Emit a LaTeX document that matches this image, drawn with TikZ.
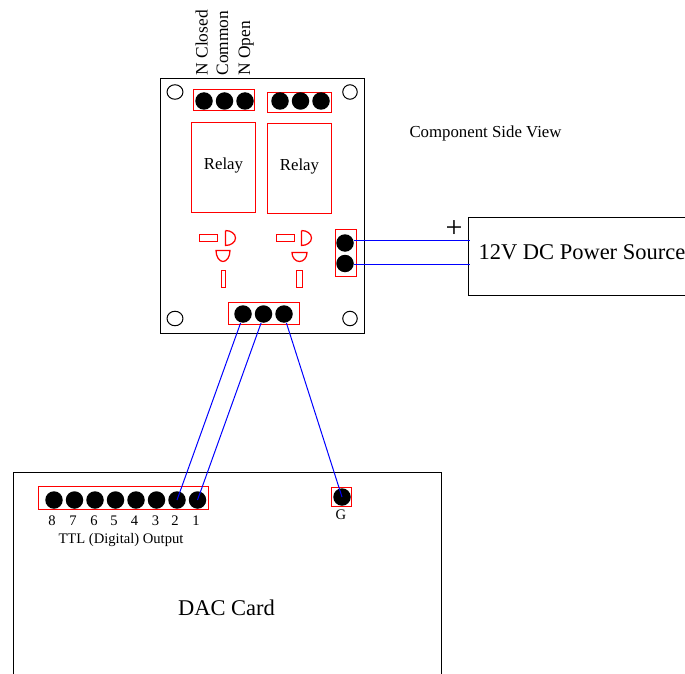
\documentclass[tikz,border=0pt]{standalone}
\usepackage{fontspec}
\setmainfont{Liberation Serif}
\usetikzlibrary{positioning}
\tikzset{node distance=20.5pt, % Spacing of the header pins
every path/.style={line width=1pt},
pin/.style={ % Solder pads
circle,
fill=black,
inner sep=0pt,
minimum size=17.5pt},
hole/.style={ % Mounting holes
circle,
draw,
inner sep=0pt,
minimum size=14.5pt},
part/.style={draw=red,line width=1.25pt},
wire/.style={draw=blue},
lbl/.style={inner sep=0pt,font=\fontsize{16.8}{18}\selectfont},
tall/.style={inner sep=0pt,rotate=90,anchor=base west,font=\fontsize{17.4}{18}\selectfont},
small/.style={inner sep=0pt,font=\fontsize{14.6}{16}\selectfont},
big/.style={inner sep=0pt,font=\fontsize{22.5}{24}\selectfont}}

\begin{document}
\begin{tikzpicture}[x=1pt,y=1pt,on grid]
  \useasboundingbox (0,0) rectangle (685,-674);
  % relay board
  \draw (160.5,-78.5) rectangle (364.5,-333.5);
  \node[hole,xscale=1.1] (h_1) at (175,-92) {};
  \node[hole]            (h_2) at (350,-92) {};
  \node[hole,xscale=1.1] (h_3) at (175,-318.5) {};
  \node[hole]            (h_4) at (350,-318.5) {};
  \draw[part] (193.5,-89.5) rectangle (254.5,-110.5);
  \draw[part] (267.5,-92.5) rectangle (331.5,-112.5);
  \draw[part] (191.5,-122.5) rectangle (255.5,-212.5);
  \draw[part] (267.5,-123.5) rectangle (331.5,-213.5);
  \draw[part] (335.5,-229.5) rectangle (356.5,-276.5);
  \draw[part] (228.5,-302.5) rectangle (299.5,-324.5);
  % small parts
  \draw[part] (199.5,-234.5) rectangle (217.5,-241.5);
  \draw[part] (225.5,-230.5) -- (225.5,-245.5) arc (-90:90:10 and 7.5);
  \draw[part] (216,-250.5) -- (230,-250.5) arc (0:-180:7 and 11) -- cycle;
  \draw[part] (221.5,-270.5) rectangle (225.5,-287.5);
  \draw[part] (276.5,-234.5) rectangle (294.5,-241.5);
  \draw[part] (301.5,-230.5) -- (301.5,-245.5) arc (-90:90:10 and 7.5);
  \draw[part] (292,-252.5) -- (307,-252.5) arc (0:-180:7.5 and 9) -- cycle;
  \draw[part] (296.5,-270.5) rectangle (302.5,-287.5);
  % pins
  \node[pin] (c_1) at (204,-101)  {};
  \node[pin] (c_2) [right=of c_1] {};
  \node[pin] (c_3) [right=of c_2] {};
  \node[pin] (d_1) at (280,-101)  {};
  \node[pin] (d_2) [right=of d_1] {};
  \node[pin] (d_3) [right=of d_2] {};
  \node[pin] (p_1) at (345,-243)  {};
  \node[pin] (p_2) [below=of p_1] {};
  \node[pin] (r_1) at (243,-314)  {};
  \node[pin] (r_2) [right=of r_1] {};
  \node[pin] (r_3) [right=of r_2] {};
  % labels on the board
  \node[tall] (closed) at (207.5,-76) {N Closed};
  \node[tall] (common) at (228,-76)   {Common};
  \node[tall] (open)   at (250,-76)   {N Open};
  \node[lbl,anchor=base] (rel_1) at (223.5,-169) {Relay};
  \node[lbl,anchor=base] (rel_2) at (299.5,-170) {Relay};
  \node[lbl,anchor=base west] (side) at (409,-138) {Component Side View};
  % power source
  \node[draw,minimum width=217pt,minimum height=78pt] (pwr) at (576.5,-256) {};
  \node[big,anchor=base west] (pwr_t) at (478,-259) {12V DC Power Source};
  \node[inner sep=0pt,font=\fontsize{30}{30}\selectfont] (plus) at (454,-229) {+};
  \coordinate (w_1) at (470,-240.5);
  \coordinate (w_2) at (470,-264.5);
  % DAC card
  \draw (13.5,-674) -- (13.5,-472.5) -- (441.5,-472.5) -- (441.5,-674);
  \draw[part] (38.5,-486.5) rectangle (208.5,-509.5);
  \draw[part] (331.5,-487.5) rectangle (351.5,-506.5);
  \node[pin] (t_8) at (54,-500)   {};
  \node[pin] (t_7) [right=of t_8] {};
  \node[pin] (t_6) [right=of t_7] {};
  \node[pin] (t_5) [right=of t_6] {};
  \node[pin] (t_4) [right=of t_5] {};
  \node[pin] (t_3) [right=of t_4] {};
  \node[pin] (t_2) [right=of t_3] {};
  \node[pin] (t_1) [right=of t_2] {};
  \node[pin] (g)   at (342,-497)  {};
  \node[small,anchor=base] (n_8) at (52,-525)    {8};
  \node[small,anchor=base] (n_7) at (73,-525)    {7};
  \node[small,anchor=base] (n_6) at (94,-525)    {6};
  \node[small,anchor=base] (n_5) at (114,-525)   {5};
  \node[small,anchor=base] (n_4) at (134.5,-525) {4};
  \node[small,anchor=base] (n_3) at (155.5,-525) {3};
  \node[small,anchor=base] (n_2) at (175,-525)   {2};
  \node[small,anchor=base] (n_1) at (196,-525)   {1};
  \node[small,anchor=base] (n_g) at (341,-519)   {G};
  \node[small,anchor=base] (ttl) at (121,-543)   {TTL (Digital) Output};
  \node[big,anchor=base]   (dac) at (226.5,-615) {DAC Card};
  % wires
  \draw[wire] (w_1 -| p_1.east) -- (w_1);
  \draw[wire] (w_2 -| p_2.east) -- (w_2);
  \draw[wire] (r_1.255) -- (t_2.center);
  \draw[wire] (r_2.255) -- (t_1.center);
  \draw[wire] (r_3.285) -- (g.center);
\end{tikzpicture}
\end{document}
